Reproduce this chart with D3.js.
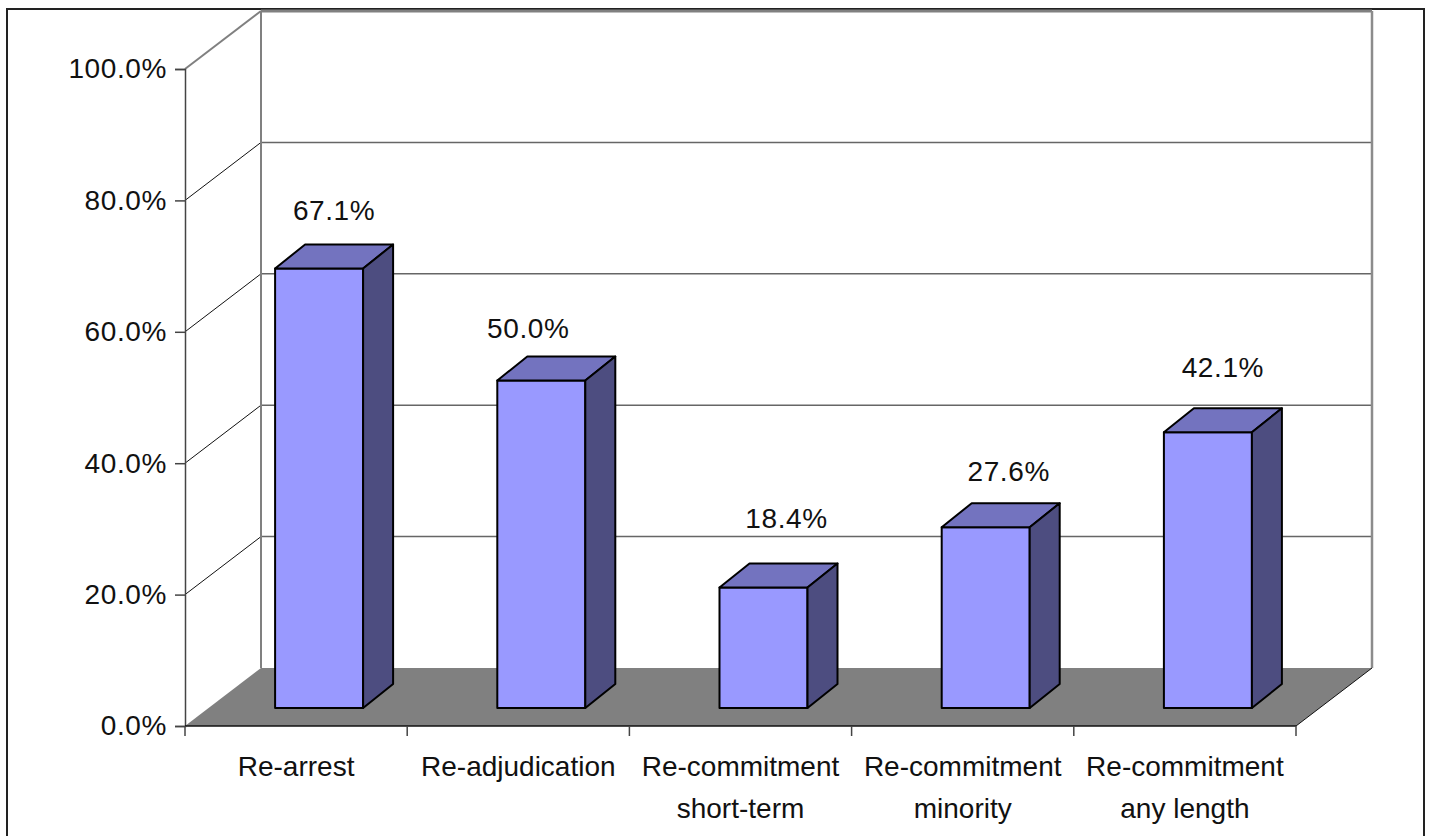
<!DOCTYPE html>
<html><head><meta charset="utf-8">
<script src="https://cdn.jsdelivr.net/npm/d3@7/dist/d3.min.js"></script>
<style>html,body{margin:0;padding:0;background:#fff;overflow:hidden}svg{display:block}
text{font-family:"Liberation Sans",Arial,sans-serif;fill:#111;font-size:28px}</style>
</head><body><svg width="1430" height="836"></svg>
<script>
const categories = [["Re-arrest"],["Re-adjudication"],["Re-commitment","short-term"],["Re-commitment","minority"],["Re-commitment","any length"]];
const values = [67.1,50.0,18.4,27.6,42.1];
const valueLabels = ["67.1%","50.0%","18.4%","27.6%","42.1%"];
const yTicks = [0,20,40,60,80,100];

// layout (not data): label nudges relative to the bar top
const labelDx = [15,-13,23,23,15], labelDy = [24,19,35,22,31];

const svg = d3.select("svg");
const x = d3.scaleBand().domain(d3.range(values.length)).range([185,1296]);
const y = d3.scaleLinear().domain([0,100]).range([726,69]);
const yBar = d3.scaleLinear().domain([0,100]).range([708,53]);
const wallDx = 76, wallDy = -58, barDx = 30, barDy = -24, barW = 88, barShift = 23;
const line = (a,b,c,d,col,w)=>svg.append("line").attr("x1",a).attr("y1",b).attr("x2",c).attr("y2",d).attr("stroke",col).attr("stroke-width",w);

// frame
svg.append("rect").attr("x",7).attr("y",9).attr("width",1417).attr("height",840).attr("fill","#fff").attr("stroke","#222").attr("stroke-width",2);

const L = x.range()[0], R = x.range()[1];
// gridlines
yTicks.slice(1).forEach(t=>{
  const top = t===100, yy=y(t);
  line(L,yy,L+wallDx,yy+wallDy, top?"#808080":"#111", top?2:1);
  line(L+wallDx,yy+wallDy,R+wallDx,yy+wallDy, top?"#808080":"#666", top?3:1.5);
});
line(L+wallDx,y(100)+wallDy,L+wallDx,y(0)+wallDy,"#808080",2);
line(R+wallDx,y(100)+wallDy,R+wallDx,y(0)+wallDy,"#8c8c8c",2.5);
// floor
svg.append("path").attr("fill","#808080").attr("d",d3.line()([[L,y(0)],[L+wallDx,y(0)+wallDy],[R+wallDx,y(0)+wallDy],[R,y(0)]]));
line(R,y(0),R+wallDx,y(0)+wallDy,"#111",1);

// axes
const yAxis = d3.axisLeft(y).tickValues(yTicks).tickFormat(d=>d3.format(".1f")(d)+"%").tickSize(10).tickPadding(8);
const gy = svg.append("g").attr("transform",`translate(${L},0)`).call(yAxis);
gy.selectAll("path,line").attr("stroke","#444").attr("stroke-width",1.5);
gy.selectAll("text").style("letter-spacing","0.6px").attr("fill","#111");

line(L,y(0),R,y(0),"#111",1.5);
[...d3.range(values.length).map(i=>x(i)),R].forEach(px=>line(px,y(0),px,y(0)+10,"#444",1.5));

// category labels
svg.append("g").selectAll("text").data(categories).join("text")
  .attr("text-anchor","middle")
  .attr("transform",(d,i)=>`translate(${x(i)+x.bandwidth()/2},776)`)
  .each(function(d){d3.select(this).selectAll("tspan").data(d).join("tspan").attr("x",0).attr("y",(_,j)=>j*42).text(t=>t);});

// bars
const g = svg.append("g").selectAll("g").data(values).join("g");
const bx = i=>x(i)+x.bandwidth()/2+barShift-barW/2;
const by = v=>yBar(v);
const st = s=>s.attr("stroke","#000").attr("stroke-width",2).attr("stroke-linejoin","round");
g.append("path").attr("fill","#9999ff").call(st).attr("d",(v,i)=>`M${bx(i)},${by(0)}H${bx(i)+barW}V${by(v)}H${bx(i)}Z`);
g.append("path").attr("fill","#7373bf").call(st).attr("d",(v,i)=>`M${bx(i)},${by(v)}l${barDx},${barDy}h${barW}l${-barDx},${-barDy}Z`);
g.append("path").attr("fill","#4d4d80").call(st).attr("d",(v,i)=>`M${bx(i)+barW},${by(0)}l${barDx},${barDy}V${by(v)+barDy}l${-barDx},${-barDy}Z`);

// value labels
svg.append("g").selectAll("text").data(values).join("text")
  .attr("text-anchor","middle").style("letter-spacing","0.6px")
  .attr("x",(v,i)=>bx(i)+barW/2+labelDx[i])
  .attr("y",(v,i)=>by(v)+barDy-labelDy[i])
  .text((v,i)=>valueLabels[i]);
</script></body></html>
